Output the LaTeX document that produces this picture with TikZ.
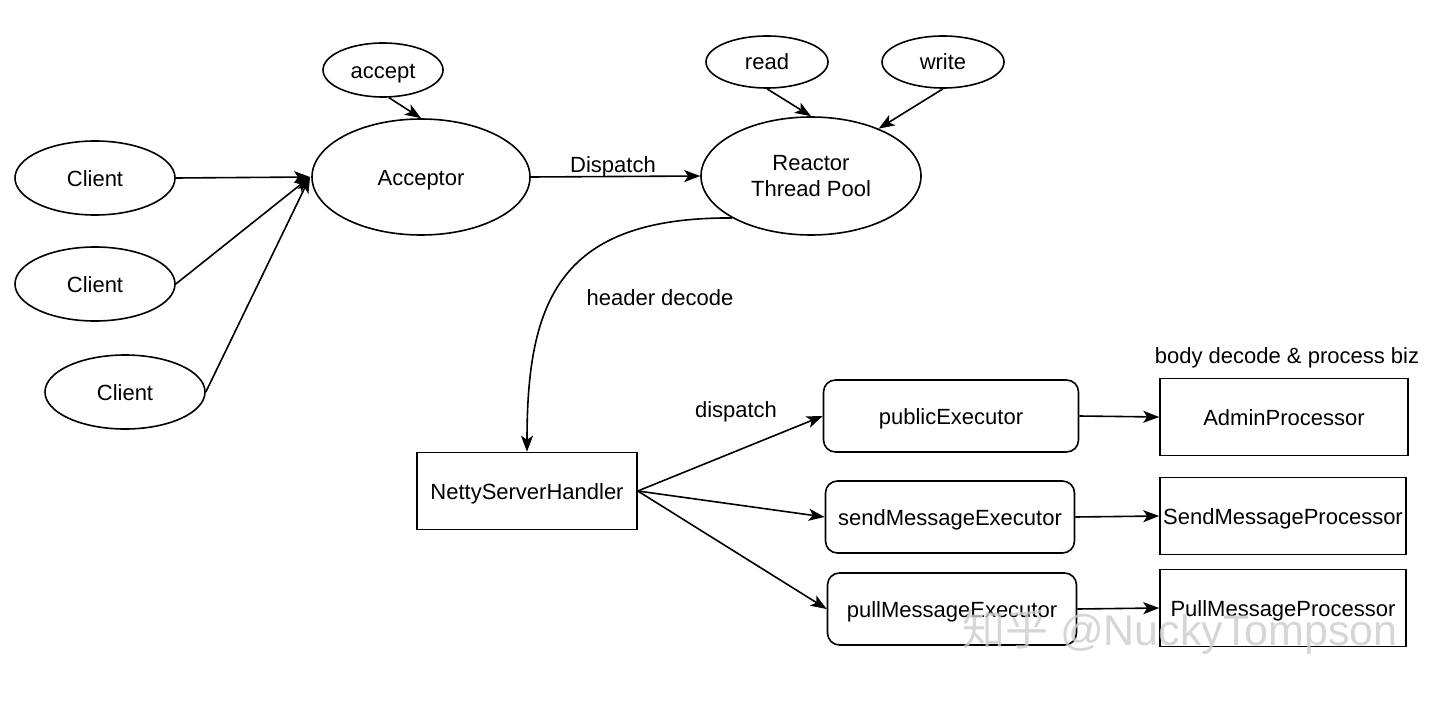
\documentclass[tikz,border=0pt]{standalone}
\usepackage{fontspec}
\setmainfont{Liberation Sans}
\newfontfamily\cjk{Noto Sans CJK SC}
\usetikzlibrary{shapes.geometric,arrows.meta}
\begin{document}
\begin{tikzpicture}[x=1pt,y=-1pt,
  every node/.style={font=\fontsize{22}{26}\selectfont},
  one/.style={text height=16pt,text depth=0pt},
  ell/.style={ellipse,draw,line width=1.6pt,inner sep=0pt},
  sqbox/.style={rectangle,draw,line width=1.6pt,inner sep=0pt,one},
  rbox/.style={rectangle,rounded corners=12pt,draw,line width=1.6pt,inner sep=0pt,one},
  conn/.style={line width=1.6pt,-{Stealth[length=16pt,width=12pt,inset=4pt]}},
  lbl/.style={inner sep=0pt,one}]
\useasboundingbox (0,0) rectangle (1440,701);
\fill[white] (0,0) rectangle (1440,701);
% ellipses
\node[ell,one,minimum width=160pt,minimum height=74pt] (c1) at (95,178) {Client};
\node[ell,one,minimum width=160pt,minimum height=74pt] (c2) at (95,284) {Client};
\node[ell,one,minimum width=160pt,minimum height=74pt] (c3) at (125,392) {Client};
\node[ell,one,minimum width=218pt,minimum height=116pt] (acc) at (421,177) {Acceptor};
\node[ell,one,minimum width=120pt,minimum height=54pt] (accept) at (383,70) {accept};
\node[ell,one,minimum width=122pt,minimum height=52pt] (read) at (767,62) {read};
\node[ell,one,minimum width=122pt,minimum height=52pt] (write) at (943,62) {write};
\node[ell,minimum width=220pt,minimum height=118pt,align=center] (reactor) at (811,176) {Reactor\\Thread Pool};
% boxes
\node[sqbox,minimum width=220pt,minimum height=77pt] (netty) at (527,491) {NettyServerHandler};
\node[rbox,minimum width=255pt,minimum height=72pt] (pub) at (951,416) {publicExecutor};
\node[rbox,minimum width=249pt,minimum height=72pt] (send) at (950,517) {sendMessageExecutor};
\node[rbox,minimum width=249pt,minimum height=72pt] (pull) at (952,609) {pullMessageExecutor};
\node[sqbox,minimum width=248pt,minimum height=77pt] (admin) at (1284,417) {AdminProcessor};
\node[sqbox,minimum width=246pt,minimum height=77pt] (sendp) at (1283,516) {SendMessageProcessor};
\node[sqbox,minimum width=246pt,minimum height=77pt] (pullp) at (1283,608) {PullMessageProcessor};
% labels
\node[lbl] (l1) at (613,164) {Dispatch};
\node[lbl] (l2) at (660,297) {header decode};
\node[lbl] (l3) at (736,409) {dispatch};
\node[lbl] (l4) at (1287,355) {body decode \& process biz};
% connectors
\coordinate (accin) at (310,177);
\draw[conn] (c1.east) -- (accin);
\draw[conn] (c2.east) -- (accin);
\draw[conn] (c3.east) -- (accin);
\draw[conn] (accept.-78) -- (acc.north);
\draw[conn] (acc.east) -- (reactor.west);
\draw[conn] (read.south) -- (reactor.north);
\draw[conn] (write.south) -- (reactor.35);
\draw[conn] (reactor.-152) .. controls (560,217) and (527,300) .. (netty.north);
\draw[conn] (netty.east) -- (pub.west);
\draw[conn] (netty.east) -- (send.west);
\draw[conn] (netty.east) -- (pull.west);
\draw[conn] (pub.east) -- (admin.west);
\draw[conn] (send.east) -- (sendp.west);
\draw[conn] (pull.east) -- (pullp.west);
% watermark
\node[inner sep=0pt,text=gray!40,opacity=0.8,font=\fontsize{43}{46}\selectfont] (wm) at (1180,632) {{\cjk 知乎} @NuckyTompson};
\end{tikzpicture}
\end{document}
